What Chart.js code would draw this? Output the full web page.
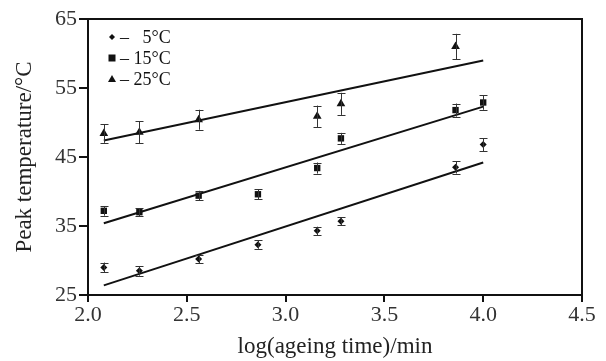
<!DOCTYPE html>
<html>
<head>
<meta charset="utf-8">
<script src="https://cdn.jsdelivr.net/npm/chart.js@4"></script>
<style>
  html, body { margin: 0; padding: 0; background: #fff; }
  #wrap { width: 606px; height: 361px; }
</style>
</head>
<body>
<div id="wrap"><canvas id="chart" width="606" height="361"></canvas></div>
<script>
// log(ageing time) values
var logTime = [2.08, 2.26, 2.56, 2.86, 3.16, 3.28, 3.86, 4.0];
var logTime25 = [2.08, 2.26, 2.56, 3.16, 3.28, 3.86];

// peak temperatures
var peak5 = [29.0, 28.5, 30.2, 32.3, 34.3, 35.7, 43.5, 46.8];
var err5 = [0.7, 0.7, 0.6, 0.6, 0.6, 0.6, 0.9, 0.95];
var peak15 = [37.2, 37.0, 39.4, 39.6, 43.4, 47.7, 51.8, 52.9];
var err15 = [0.7, 0.6, 0.7, 0.7, 0.8, 0.8, 0.95, 1.05];
var peak25 = [48.4, 48.6, 50.4, 50.9, 52.7, 61.0];
var err25 = [1.35, 1.6, 1.45, 1.55, 1.6, 1.85];

// fitted lines (start / end)
var fitX = [2.08, 4.0];
var fit5 = [26.4, 44.2];
var fit15 = [35.4, 52.3];
var fit25 = [47.4, 59.0];

var legendLabels = ['\u2013   5\u00b0C', '\u2013 15\u00b0C', '\u2013 25\u00b0C'];
var legendStyles = ['rectRot', 'rect', 'triangle'];

var xTicks = [2.0, 2.5, 3.0, 3.5, 4.0, 4.5];
var yTicks = [25, 35, 45, 55, 65];

function pts(xs, ys) {
  return xs.map(function(x, i) { return { x: x, y: ys[i] }; });
}

var serif = "'Liberation Serif', 'DejaVu Serif', serif";

// error bars with caps
var errorBars = {
  id: 'errorBars',
  afterDatasetsDraw: function(chart) {
    var ctx = chart.ctx;
    var xs = chart.scales.x, ys = chart.scales.y;
    ctx.save();
    ctx.strokeStyle = '#333';
    ctx.lineWidth = 1;
    chart.data.datasets.forEach(function(ds) {
      if (!ds.errors) return;
      ds.data.forEach(function(p, i) {
        var px = Math.round(xs.getPixelForValue(p.x)) + 0.5;
        var top = ys.getPixelForValue(p.y + ds.errors[i]);
        var bot = ys.getPixelForValue(p.y - ds.errors[i]);
        ctx.beginPath();
        ctx.moveTo(px, top); ctx.lineTo(px, bot);
        ctx.moveTo(px - 4, Math.round(top) + 0.5); ctx.lineTo(px + 4, Math.round(top) + 0.5);
        ctx.moveTo(px - 4, Math.round(bot) + 0.5); ctx.lineTo(px + 4, Math.round(bot) + 0.5);
        ctx.stroke();
      });
    });
    ctx.restore();
  }
};

// box around plot + legend in the corner
var frameAndLegend = {
  id: 'frameAndLegend',
  afterDraw: function(chart) {
    var ctx = chart.ctx;
    var a = chart.chartArea;
    ctx.save();
    ctx.strokeStyle = '#111';
    ctx.lineWidth = 2;
    ctx.beginPath();
    ctx.moveTo(a.left, a.top); ctx.lineTo(a.right, a.top); ctx.lineTo(a.right, a.bottom);
    ctx.stroke();

    ctx.fillStyle = '#111';
    ctx.font = '18px ' + serif;
    ctx.textBaseline = 'middle';
    for (var i = 0; i < legendLabels.length; i++) {
      var y = a.top + 18 + i * 21;
      var mx = a.left + 24;
      ctx.beginPath();
      if (legendStyles[i] === 'rectRot') {
        ctx.moveTo(mx, y - 3); ctx.lineTo(mx + 3, y); ctx.lineTo(mx, y + 3); ctx.lineTo(mx - 3, y);
      } else if (legendStyles[i] === 'rect') {
        ctx.rect(mx - 3.5, y - 3.5, 7, 7);
      } else {
        ctx.moveTo(mx, y - 4); ctx.lineTo(mx + 4, y + 3); ctx.lineTo(mx - 4, y + 3);
      }
      ctx.closePath();
      ctx.fill();
      ctx.fillText(legendLabels[i], mx + 8, y + 1);
    }
    ctx.restore();
  }
};

var ctx = document.getElementById('chart').getContext('2d');
var chart = new Chart(ctx, {
  type: 'scatter',
  data: {
    datasets: [
      { label: '5\u00b0C', data: pts(logTime, peak5), errors: err5, pointStyle: 'rectRot', pointRadius: 3.5,
        backgroundColor: '#111', borderColor: '#111', borderWidth: 0 },
      { label: '15\u00b0C', data: pts(logTime, peak15), errors: err15, pointStyle: 'rect', pointRadius: 4.5,
        backgroundColor: '#111', borderColor: '#111', borderWidth: 0 },
      { label: '25\u00b0C', data: pts(logTime25, peak25), errors: err25, pointStyle: 'triangle', pointRadius: 5,
        backgroundColor: '#111', borderColor: '#111', borderWidth: 0 },
      { label: 'fit 5', data: pts(fitX, fit5), showLine: true, pointRadius: 0, borderColor: '#111', borderWidth: 2 },
      { label: 'fit 15', data: pts(fitX, fit15), showLine: true, pointRadius: 0, borderColor: '#111', borderWidth: 2 },
      { label: 'fit 25', data: pts(fitX, fit25), showLine: true, pointRadius: 0, borderColor: '#111', borderWidth: 2 }
    ]
  },
  options: {
    responsive: false,
    animation: false,
    layout: { padding: { top: 19, right: 24, left: 0, bottom: 0 } },
    plugins: { legend: { display: false }, tooltip: { enabled: false } },
    scales: {
      x: {
        type: 'linear', min: 2.0, max: 4.5,
        afterBuildTicks: function(s) { s.ticks = xTicks.map(function(v) { return { value: v }; }); },
        afterFit: function(s) { s.height = 66; },
        grid: { drawOnChartArea: false, tickLength: 7, color: '#111', lineWidth: 2 },
        border: { color: '#111', width: 2 },
        ticks: { color: '#333', font: { family: serif, size: 22 }, padding: 0,
          callback: function(v) { return v.toFixed(1); } },
        title: { display: true, text: 'log(ageing time)/min', color: '#222',
          font: { family: serif, size: 23 }, padding: { top: 0, bottom: 0 } }
      },
      y: {
        type: 'linear', min: 25, max: 65,
        afterBuildTicks: function(s) { s.ticks = yTicks.map(function(v) { return { value: v }; }); },
        afterFit: function(s) { s.width = 88; },
        grid: { drawOnChartArea: false, tickLength: 9, color: '#111', lineWidth: 2 },
        border: { color: '#111', width: 2 },
        ticks: { color: '#333', font: { family: serif, size: 22 }, padding: 2 },
        title: { display: true, text: 'Peak temperature/\u00b0C', color: '#222',
          font: { family: serif, size: 23 }, padding: { top: 11, bottom: 0 } }
      }
    }
  },
  plugins: [errorBars, frameAndLegend]
});
</script>
</body>
</html>
